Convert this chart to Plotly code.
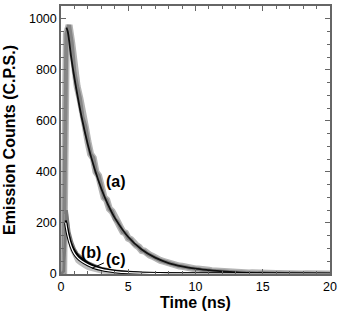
import plotly.graph_objects as go

# ---- data ----
t_data = [round(0.2 * i, 1) for i in range(101)]
a_data = [0, 5, 940, 975, 905, 790, 735, 690, 615, 580,
          520, 470, 455, 400, 385, 345, 300, 290, 255, 245,
          215, 205, 185, 165, 160, 140, 135, 118, 112, 105,
          92, 90, 80, 74, 70, 62, 60, 53, 50, 46,
          43, 40, 36, 34, 31, 30, 27, 26, 23, 23,
          20, 20, 17, 17, 15, 15, 13, 12, 12, 10,
          10, 9, 8, 8, 7, 7, 6, 6, 5, 5,
          4, 5, 4, 3, 4, 3, 3, 2, 3, 2,
          2, 2, 1, 2, 1, 1, 2, 1, 1, 1,
          0, 1, 1, 0, 1, 0, 1, 0, 1, 0, 0]

t_fit_a = [0.4, 0.5, 0.75, 1.0, 1.5, 2.0, 2.5, 3.0, 3.5, 4.0, 5.0, 6.0, 7.0,
           8.0, 9.0, 10.0, 11.0, 12.0, 13.0, 14.0, 15.0, 16.0, 18.0, 20.0]
fit_a = [965, 950, 852, 767, 623, 506, 411, 334, 271, 220, 145, 96, 64,
         43, 30, 21, 15, 10, 7, 4.5, 3, 2, 1, 0.5]

t_bc = [round(0.2 * i, 1) for i in range(51)]
b_data = [0, 10, 250, 165, 125, 98, 80, 70, 58, 52,
          45, 40, 34, 30, 27, 22, 21, 17, 16, 13,
          12, 11, 9, 9, 7, 7, 6, 5, 5, 4,
          4, 3, 3, 3, 2, 2, 2, 2, 1, 1,
          1, 1, 1, 1, 0, 1, 0, 0, 1, 0, 0]
c_data = [0, 8, 235, 140, 95, 68, 50, 42, 33, 28,
          22, 19, 15, 13, 11, 9, 8, 7, 6, 5,
          4, 4, 3, 3, 2, 2, 1, 1, 2, 1,
          1, 1, 0, 1, 1, 0, 0, 1, 0, 0,
          0, 0, 0, 0, 0, 0, 0, 0, 0, 0, 0]

t_fit_bc = [0.35, 0.5, 0.75, 1.0, 1.25, 1.5, 2.0, 2.5, 3.0, 3.5, 4.0, 5.0, 6.0, 8.0, 10.0, 20.0]
fit_b = [210, 170, 120, 92, 74, 62, 44, 31, 22, 16, 12, 7, 4, 1.5, 0.5, 0]
fit_c = [200, 155, 108, 80, 63, 52, 36, 25, 18, 13, 9.5, 5, 3, 1, 0.3, 0]

x_ticks = [0, 5, 10, 15, 20]
y_ticks = [0, 200, 400, 600, 800, 1000]

FONT = "Arial, Liberation Sans, sans-serif"

fig = go.Figure()
fig.add_trace(go.Scatter(x=t_data, y=a_data, mode="lines",
                         line=dict(color="#b4b4b4", width=7), hoverinfo="skip"))
fig.add_trace(go.Scatter(x=t_data, y=a_data, mode="lines",
                         line=dict(color="#858585", width=4), hoverinfo="skip"))
fig.add_trace(go.Scatter(x=t_fit_a, y=fit_a, mode="lines", line_shape="spline",
                         line=dict(color="#111111", width=1.8), hoverinfo="skip"))
fig.add_trace(go.Scatter(x=t_bc, y=c_data, mode="lines",
                         line=dict(color="#bdbdbd", width=3.5), hoverinfo="skip"))
fig.add_trace(go.Scatter(x=t_bc, y=b_data, mode="lines",
                         line=dict(color="#7a7a7a", width=3), hoverinfo="skip"))
fig.add_trace(go.Scatter(x=t_fit_bc, y=fit_b, mode="lines", line_shape="spline",
                         line=dict(color="#000000", width=2.2), hoverinfo="skip"))
fig.add_trace(go.Scatter(x=t_fit_bc, y=fit_c, mode="lines", line_shape="spline",
                         line=dict(color="#000000", width=3.2), hoverinfo="skip"))
fig.add_trace(go.Scatter(x=t_fit_bc, y=fit_c, mode="lines", line_shape="spline",
                         line=dict(color="#ffffff", width=1.2), hoverinfo="skip"))

axis_common = dict(
    showline=True, linecolor="#666666", linewidth=1.5, mirror="ticks",
    ticks="inside", ticklen=5, tickwidth=1.2, tickcolor="#666666",
    showgrid=False, zeroline=False,
    tickfont=dict(family=FONT, size=12.5, color="#000000"),
)

fig.update_xaxes(range=[0, 20], tickvals=x_ticks, ticktext=[str(v) for v in x_ticks],
                 minor=dict(dtick=1, ticks="inside", ticklen=3, tickcolor="#666666", tickwidth=1),
                 title=dict(text="<b>Time (ns)</b>", font=dict(family=FONT, size=16, color="#000"),
                            standoff=2),
                 **axis_common)
fig.update_yaxes(range=[0, 1050], tickvals=y_ticks, ticktext=[str(v) for v in y_ticks],
                 minor=dict(dtick=50, ticks="inside", ticklen=3, tickcolor="#666666", tickwidth=1),
                 title=dict(text="<b>Emission Counts (C.P.S.)</b>",
                            font=dict(family=FONT, size=16, color="#000"), standoff=9),
                 **axis_common)

fig.update_xaxes(tickprefix="<b>", ticksuffix="</b>")
fig.update_yaxes(tickprefix="<b>", ticksuffix="</b>")

ann_font = dict(family=FONT, size=16, color="#000")
fig.add_annotation(x=4.1, y=363, text="<b>(a)</b>", showarrow=False, font=ann_font)
fig.add_annotation(x=2.2, y=85, text="<b>(b)</b>", showarrow=False, font=ann_font)
fig.add_annotation(x=4.1, y=58, text="<b>(c)</b>", showarrow=False, font=ann_font)
fig.add_annotation(x=2.3, y=22, ax=3.3, ay=46, axref="x", ayref="y", xref="x", yref="y",
                   text="", showarrow=True, arrowhead=0, arrowwidth=1, arrowcolor="#000")

fig.update_layout(
    width=341, height=313,
    margin=dict(l=61, r=9, t=4, b=39),
    paper_bgcolor="white", plot_bgcolor="white",
    showlegend=False,
)

fig.write_html("out.html", config={"displayModeBar": False},
               post_script="document.body.style.margin='0';document.body.style.overflow='hidden';")
